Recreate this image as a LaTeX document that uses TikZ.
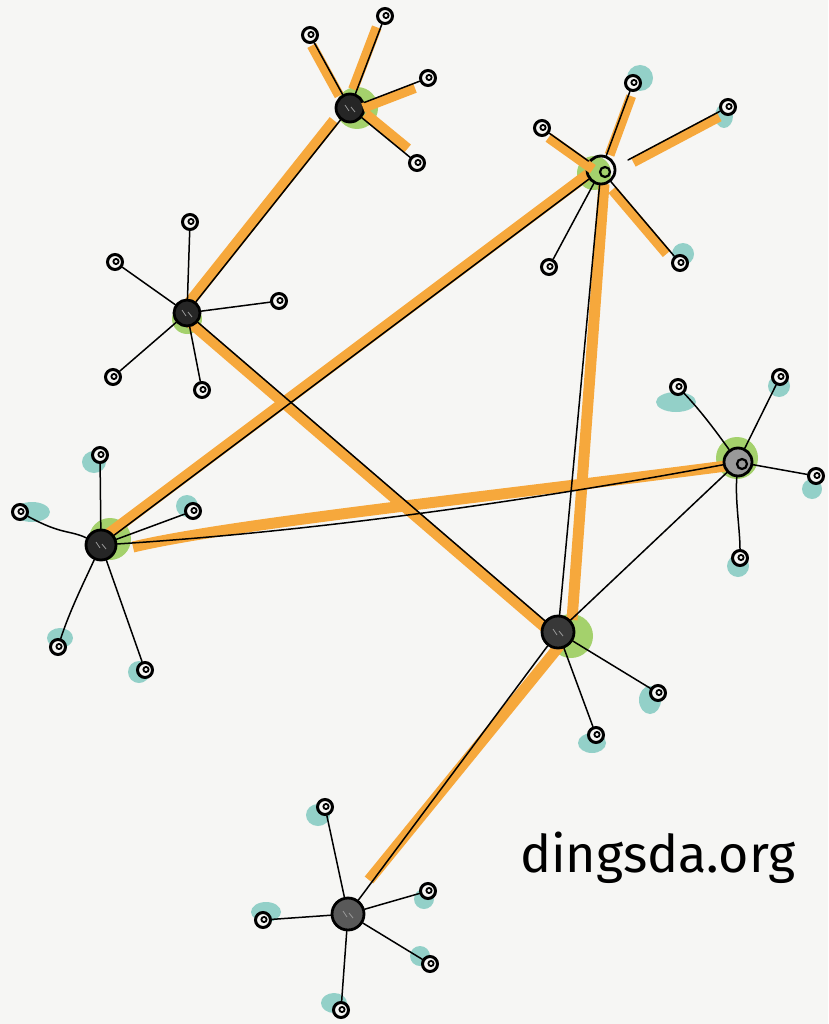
\documentclass[tikz,border=0pt]{standalone}
\usepackage{fontspec}
\newfontfamily\handfont{Fira Sans}
\usetikzlibrary{calc}
\definecolor{bgc}{HTML}{F6F6F4}
\definecolor{orng}{HTML}{F6A83C}
\definecolor{grnb}{HTML}{A4D16C}
\definecolor{tealb}{HTML}{93D0C8}
\begin{document}
\begin{tikzpicture}[x=1pt,y=-1pt,
  blk/.style={line width=1.5pt,black,line cap=round},
  obar/.style={line width=11pt,orng},
  ospoke/.style={line width=10pt,orng},
  leaf/.style={circle,draw=black,line width=3pt,minimum size=15pt,inner sep=0pt,fill=bgc,
    path picture={\draw[line width=1.8pt] (path picture bounding box.center) ++(1pt,0.5pt) circle (2.6pt);}},
  hub/.style={circle,draw=black,line width=2.8pt,minimum size=28pt,inner sep=0pt,fill=black!85,
    path picture={\draw[black!40,line width=0.8pt] (path picture bounding box.center) ++(-5pt,3pt) -- ++(4pt,-6pt) ++(2pt,4pt) -- ++(4pt,-5pt);}},
  ringhub/.style={circle,draw=black,line width=2.8pt,minimum size=28pt,inner sep=0pt,
    path picture={\draw[line width=2.2pt] (path picture bounding box.center) ++(4pt,-2pt) circle (5pt);}},
  tblob/.style={tealb},
  gblob/.style={grnb}]
\useasboundingbox (0,0) rectangle (828,1024);
\fill[bgc] (0,0) rectangle (828,1024);

% ---------- coordinates of hubs
\coordinate (H1) at (350,108);
\coordinate (H2) at (601,170);
\coordinate (H3) at (187,313);
\coordinate (H4) at (101,545);
\coordinate (H5) at (738,462);
\coordinate (H6) at (558,632);
\coordinate (H7) at (348,914);

% ---------- teal blobs
\fill[tblob] (640,78) circle (13pt);
\fill[tblob] (724,116) ellipse (9pt and 12pt);
\fill[tblob] (683,254) circle (11pt);
\fill[tblob] (94,462) ellipse (12pt and 11pt);
\fill[tblob] (32,512) ellipse (18pt and 10pt);
\fill[tblob] (187,506) circle (11pt);
\fill[tblob] (60,638) ellipse (13pt and 10pt);
\fill[tblob] (139,672) circle (11pt);
\fill[tblob] (676,402) ellipse (20pt and 10pt);
\fill[tblob] (779,386) circle (11pt);
\fill[tblob] (812,489) circle (10pt);
\fill[tblob] (738,566) circle (11pt);
\fill[tblob] (650,700) ellipse (11pt and 14pt);
\fill[tblob] (592,743) ellipse (14pt and 10pt);
\fill[tblob] (318,815) ellipse (12pt and 11pt);
\fill[tblob] (424,899) circle (10pt);
\fill[tblob] (266,912) ellipse (15pt and 10pt);
\fill[tblob] (420,956) circle (10pt);
\fill[tblob] (334,1003) ellipse (13pt and 10pt);

% ---------- green blobs
\fill[gblob] (357,108) circle (21pt);
\fill[gblob] (594,173) circle (17pt);
\fill[gblob] (187,319) circle (15pt);
\fill[gblob] (110,539) circle (21pt);
\fill[gblob] (737,458) circle (21pt);
\fill[gblob] (571,636) circle (22pt);

% ---------- orange highlights
\draw[obar,shorten <=16pt,shorten >=8pt] ([shift={(-6,0)}]H1) -- ([shift={(-6,0)}]H3);
\draw[obar,shorten <=6pt,shorten >=14pt] ([shift={(-3,4)}]H3) -- ([shift={(-3,4)}]H6);
\draw[obar,shorten <=10pt,shorten >=14pt] ([shift={(-2,-4)}]H4) -- ([shift={(-2,-4)}]H2);
\draw[obar] ([shift={(32,2)}]H4) .. controls (230,524) and (480,498) .. ([shift={(-12,4)}]H5);
\draw[obar] ([shift={(3,14)}]H2) -- ([shift={(14,-12)}]H6);
\draw[obar] ([shift={(3,12)}]H6) -- ([shift={(21,-34)}]H7);

% ---------- nodes
\node[hub] (h1) at (H1) {};
\node[ringhub] (h2) at (H2) {};
\node[hub,minimum size=26pt] (h3) at (H3) {};
\node[hub,minimum size=30pt] (h4) at (H4) {};
\node[ringhub,fill=black!40] (h5) at (H5) {};
\node[hub,minimum size=32pt,fill=black!78] (h6) at (H6) {};
\node[hub,minimum size=32pt,fill=black!65] (h7) at (H7) {};

\coordinate (bc) at (628,160);
% orange spokes (drawn before leaves)
\path (310,35) coordinate (A1) (385,16) coordinate (A2) (428,78) coordinate (A3) (417,163) coordinate (A4)
      (542,128) coordinate (B1) (633,83) coordinate (B2) (728,107) coordinate (B3) (680,263) coordinate (B5);
\draw[ospoke,shorten <=14pt,shorten >=12pt] ([shift={(-4,0)}]H1) -- ([shift={(-4,0)}]A1);
\draw[ospoke,shorten <=20pt,shorten >=12pt] ([shift={(-4,0)}]H1) -- ([shift={(-4,0)}]A2);
\draw[ospoke,shorten <=14pt,shorten >=14pt] ([shift={(0,5)}]H1) -- ([shift={(0,5)}]A3);
\draw[ospoke,shorten <=20pt,shorten >=12pt] ([shift={(0,-7)}]H1) -- ([shift={(0,-7)}]A4);
\draw[ospoke,shorten <=10pt,shorten >=8pt] ([shift={(0,5)}]H2) -- ([shift={(0,5)}]B1);
\draw[ospoke,shorten <=16pt,shorten >=14pt] ([shift={(3,0)}]H2) -- ([shift={(3,0)}]B2);
\draw[ospoke,shorten <=6pt,shorten >=10pt] ([shift={(0,5)}]bc) -- ([shift={(0,5)}]B3);
\draw[ospoke,shorten <=22pt,shorten >=16pt] ([shift={(-3,3)}]H2) -- ([shift={(-3,3)}]B5);

\node[leaf] (a1) at (A1) {};
\node[leaf] (a2) at (A2) {};
\node[leaf] (a3) at (A3) {};
\node[leaf] (a4) at (A4) {};
\node[leaf] (b1) at (B1) {};
\node[leaf] (b2) at (B2) {};
\node[leaf] (b3) at (B3) {};
\node[leaf] (b4) at (549,267) {};
\node[leaf] (b5) at (B5) {};
\node[leaf] (c1) at (190,222) {};
\node[leaf] (c2) at (115,262) {};
\node[leaf] (c3) at (279,301) {};
\node[leaf] (c4) at (113,377) {};
\node[leaf] (c5) at (202,390) {};
\node[leaf] (d1) at (100,455) {};
\node[leaf] (d2) at (20,512) {};
\node[leaf] (d3) at (193,511) {};
\node[leaf] (d4) at (58,647) {};
\node[leaf] (d5) at (145,670) {};
\node[leaf] (e1) at (678,387) {};
\node[leaf] (e2) at (780,377) {};
\node[leaf] (e3) at (816,476) {};
\node[leaf] (e4) at (740,558) {};
\node[leaf] (f1) at (658,693) {};
\node[leaf] (f2) at (596,735) {};
\node[leaf] (g1) at (325,807) {};
\node[leaf] (g2) at (428,891) {};
\node[leaf] (g3) at (263,920) {};
\node[leaf] (g4) at (430,964) {};
\node[leaf] (g5) at (341,1010) {};

% ---------- black edges between hubs
\draw[blk] (h1) -- (h3);
\draw[blk] (h3) -- (h6);
\draw[blk] (h4) -- (h2);
\draw[blk] (h4) .. controls ($(H4)!0.33!(H5)+(0,14)$) and ($(H4)!0.66!(H5)+(0,12)$) .. (h5);
\draw[blk] (h2) -- (h6);
\draw[blk] (h5) -- (h6);
\draw[blk] (h6) -- (h7);

% ---------- black spokes
\foreach \l in {a1,a2,a3,a4} \draw[blk] (h1) -- (\l);
\foreach \l in {b1,b2,b4,b5} \draw[blk] (h2) -- (\l);
\draw[blk] (bc) -- (b3);
\foreach \l in {c1,c2,c3,c4,c5} \draw[blk] (h3) -- (\l);
\draw[blk] (h4) -- (d1);
\draw[blk] (h4) .. controls (70,530) and (62,535) .. (d2);
\draw[blk] (h4) -- (d3);
\draw[blk] (h4) .. controls (85,580) and (70,610) .. (d4);
\draw[blk] (h4) -- (d5);
\draw[blk] (h5) .. controls (715,430) and (700,410) .. (e1);
\draw[blk] (h5) -- (e2);
\draw[blk] (h5) -- (e3);
\draw[blk] (h5) .. controls (735,500) and (740,530) .. (e4);
\draw[blk] (h6) -- (f1);
\draw[blk] (h6) -- (f2);
\foreach \l in {g1,g2,g3,g4,g5} \draw[blk] (h7) -- (\l);

% ---------- text
\node[anchor=base west,inner sep=0pt,font=\handfont\fontsize{52}{60}\selectfont] (t) at (520,872) {dingsda.org};
\end{tikzpicture}
\end{document}
